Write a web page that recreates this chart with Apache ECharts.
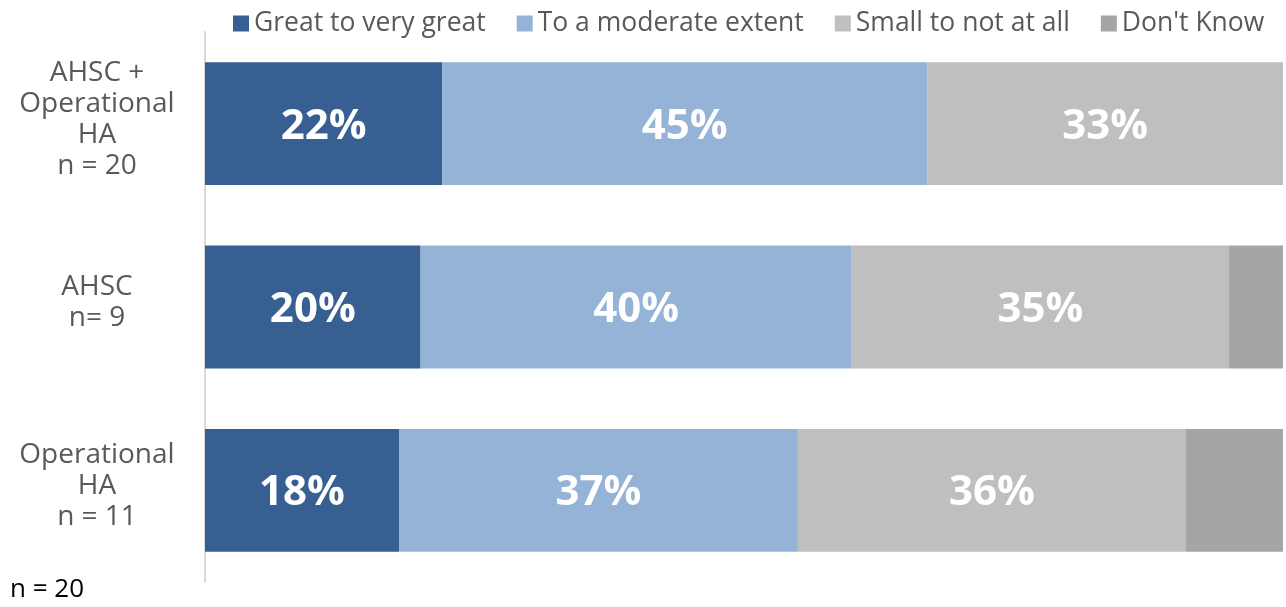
<!DOCTYPE html>
<html>
<head>
<meta charset="utf-8">
<script src="https://cdn.jsdelivr.net/npm/echarts@6/dist/echarts.min.js"></script>
<style>
  html, body { margin: 0; padding: 0; background: #fff; }
  #chart { width: 1286px; height: 607px; }
</style>
</head>
<body>
<div id="chart"></div>
<script>
  // groups, top to bottom
  var groups = ['AHSC +\nOperational\nHA\nn = 20', 'AHSC\nn= 9', 'Operational\nHA\nn = 11']
  var seriesNames = ['Great to very great', 'To a moderate extent', 'Small to not at all', "Don't Know"]
  var great = [22, 20, 18]
  var moderate = [45, 40, 37]
  var small = [33, 35, 36]
  var dontKnow = [0, 5, 9]
  var colors = ['#375f91', '#95b3d7', '#bfbfbf', '#a5a5a5']

  var chart = echarts.init(document.getElementById('chart'))

  function makeSeries(name, data, color, showLabel) {
    return {
      name: name,
      type: 'bar',
      stack: 'total',
      barCategoryGap: '33%',
      itemStyle: { color: color },
      label: {
        show: showLabel,
        position: 'inside',
        offset: [0, 3],
        color: '#fff',
        fontFamily: 'Open Sans',
        fontWeight: 'bold',
        fontSize: 42,
        formatter: '{c}%'
      },
      emphasis: { disabled: true },
      data: data
    }
  }

  chart.setOption({
    animation: false,
    textStyle: { fontFamily: 'Open Sans' },
    legend: {
      top: 5,
      left: 228,
      itemWidth: 16,
      itemHeight: 16,
      itemGap: 31,
      icon: 'rect',
      textStyle: { fontSize: 26.5, color: '#595959', fontFamily: 'Open Sans' },
      data: seriesNames
    },
    grid: {
      left: 205,
      right: 3,
      top: 32,
      bottom: 25
    },
    xAxis: {
      type: 'value',
      min: 0,
      max: 100,
      show: false
    },
    yAxis: {
      type: 'category',
      inverse: true,
      data: groups,
      axisLine: { show: true, lineStyle: { color: '#d9d9d9', width: 2 } },
      axisTick: { show: false },
      axisLabel: {
        align: 'center',
        margin: 108,
        fontSize: 28,
        lineHeight: 31,
        color: '#595959',
        fontFamily: 'Open Sans',
        // small empty line at the bottom lifts the block a few pixels
        formatter: function (v) { return v + '\n{s|}' },
        rich: { s: { lineHeight: 8, fontSize: 8 } }
      }
    },
    graphic: [
      {
        type: 'text',
        left: 10,
        top: 577,
        style: { text: 'n = 20', fontSize: 26, fill: '#000', fontFamily: 'Open Sans' }
      }
    ],
    series: [
      makeSeries(seriesNames[0], great, colors[0], true),
      makeSeries(seriesNames[1], moderate, colors[1], true),
      makeSeries(seriesNames[2], small, colors[2], true),
      makeSeries(seriesNames[3], dontKnow, colors[3], false)
    ]
  })
</script>
</body>
</html>
